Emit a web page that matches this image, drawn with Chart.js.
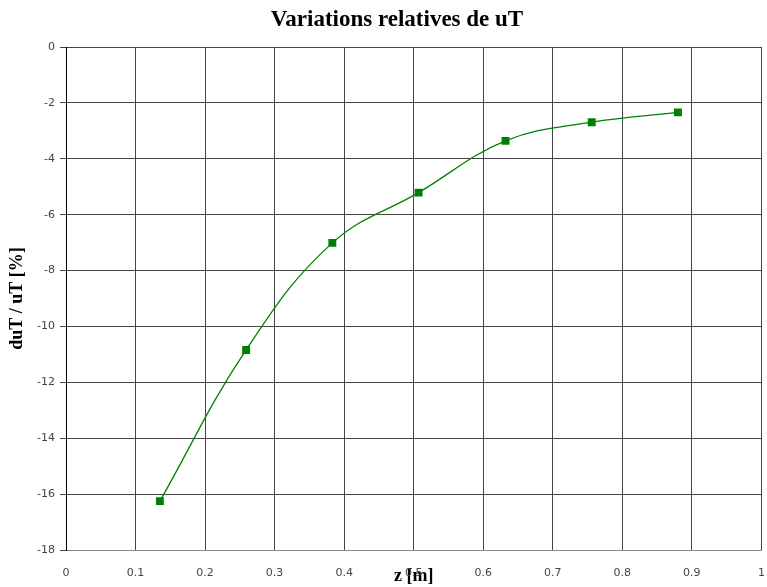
<!DOCTYPE html>
<html>
<head>
<meta charset="utf-8">
<title>Variations relatives de uT</title>
<script src="https://cdn.jsdelivr.net/npm/chart.js@4/dist/chart.umd.min.js"></script>
<style>
  html, body { margin: 0; padding: 0; background: #fff; }
  #wrap { width: 767px; height: 587px; }
</style>
</head>
<body>
<div id="wrap"><canvas id="myChart" width="767" height="587"></canvas></div>
<script>
'use strict';

// data

var zValues = [0.135, 0.259, 0.383, 0.507, 0.632, 0.756, 0.880];
var duValues = [-16.25, -10.84, -7.01, -5.21, -3.36, -2.69, -2.34];
var xTickLabels = ['0', '0.1', '0.2', '0.3', '0.4', '0.5', '0.6', '0.7', '0.8', '0.9', '1'];
var yTickLabels = ['0', '-2', '-4', '-6', '-8', '-10', '-12', '-14', '-16', '-18'];

var green = '#008000';
var gridColor = '#444';
var tickFont = { family: 'DejaVu Sans', size: 11 };

function makePoints() {
  var pts = [];
  for (var i = 0; i < zValues.length; i++) {
    pts.push({ x: zValues[i], y: duValues[i] });
  }
  return pts;
}

// title a bit left of center like the original
var titlePlugin = {
  id: 'offsetTitle',
  afterDraw: function(chart) {
    var c = chart.ctx;
    c.save();
    c.fillStyle = '#000';
    c.font = 'bold 23px "Liberation Serif"';
    c.textAlign = 'center';
    c.textBaseline = 'middle';
    c.fillText('Variations relatives de uT', 397, 20);
    c.restore();
  }
};

function makeChart() {
  var ctx = document.getElementById('myChart').getContext('2d');
  var chart = new Chart(ctx, {
    type: 'scatter',
    data: {
      datasets: [{
        label: 'duT / uT',
        data: makePoints(),
        showLine: true,
        borderColor: green,
        borderWidth: 1.3,
        tension: 0.4,
        backgroundColor: green,
        pointStyle: 'rect',
        pointRadius: 5.6,
        pointBorderWidth: 0
      }]
    },
    plugins: [titlePlugin],
    options: {
      responsive: false,
      animation: false,
      layout: { padding: { left: 0, right: 5, top: 47, bottom: 0 } },
      plugins: {
        legend: { display: false },
        tooltip: { enabled: false },
        title: { display: false }
      },
      scales: {
        x: {
          type: 'linear',
          min: 0,
          max: 1,
          afterFit: function(scale) {
            scale.height = 37;
            scale.paddingLeft = 0;
            scale.paddingRight = 0;
          },
          afterBuildTicks: function(scale) {
            scale.ticks = xTickLabels.map(function(t) { return { value: Number(t) }; });
          },
          ticks: {
            padding: 17,
            color: '#444',
            font: tickFont,
            maxRotation: 0,
            callback: function(v, i) { return xTickLabels[i]; }
          },
          grid: { color: gridColor, drawTicks: false },
          border: { color: '#888', width: 1 },
          title: {
            display: true,
            text: 'z [m]',
            color: '#000',
            font: { family: 'Liberation Serif', size: 18, weight: 'bold' },
            padding: { top: 0, bottom: 0 }
          }
        },
        y: {
          type: 'linear',
          min: -18,
          max: 0,
          afterFit: function(scale) {
            scale.width = 66;
            scale.paddingTop = 0;
            scale.paddingBottom = 0;
          },
          afterBuildTicks: function(scale) {
            scale.ticks = yTickLabels.map(function(t) { return { value: Number(t) }; });
          },
          ticks: {
            padding: 5,
            color: '#444',
            font: tickFont,
            callback: function(v, i) { return yTickLabels[i]; }
          },
          grid: { color: gridColor, tickLength: 6 },
          border: { color: '#000', width: 1 },
          title: {
            display: true,
            text: 'duT / uT [%]',
            color: '#000',
            font: { family: 'Liberation Serif', size: 18, weight: 'bold' },
            padding: { top: 7, bottom: 0 }
          }
        }
      }
    }
  });
  return chart;
}

makeChart();
</script>
</body>
</html>
